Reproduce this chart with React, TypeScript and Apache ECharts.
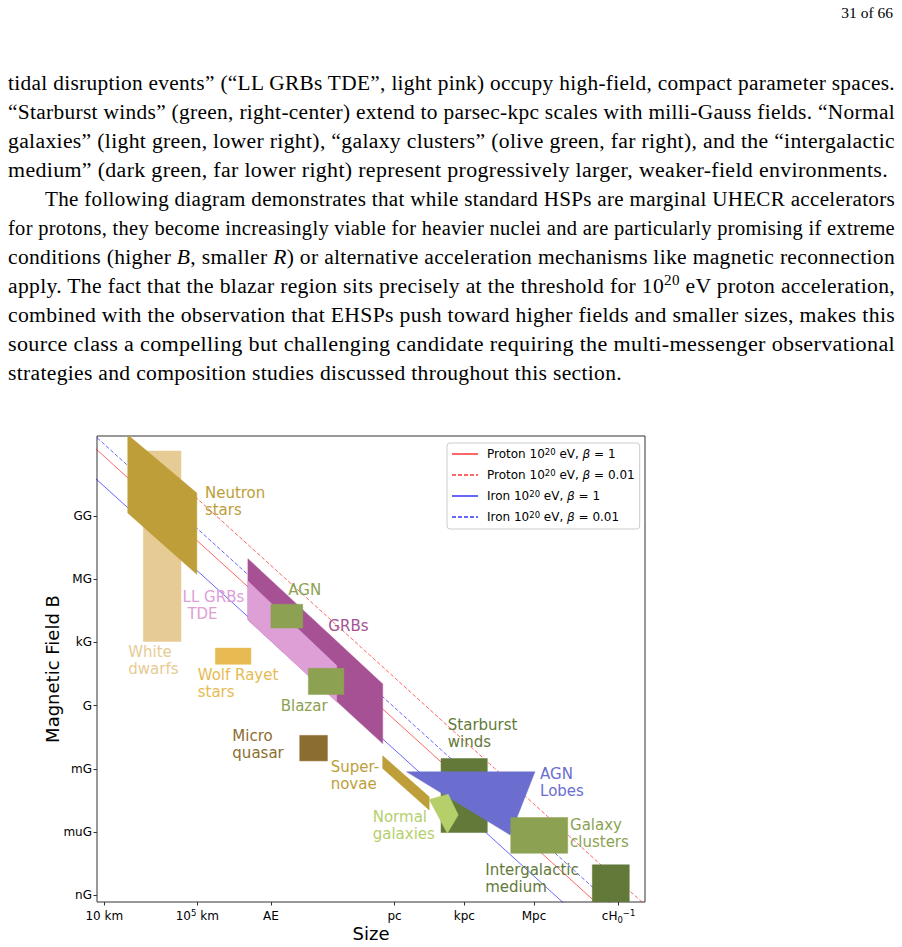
import React, { useEffect, useLayoutEffect, useRef } from "react";
import * as echarts from "echarts";

// ---------- axis ticks (log10 of size in m, log10 of field in G) ----------
const xTickValues = [4, 8, 11.17, 16.49, 19.49, 22.49, 26.13];
const xTickLabels = ["10 km", "10{sup|5} km", "AE", "pc", "kpc", "Mpc", "cH{sub|0}{sup|−1}"];
const yTickValues = [9, 6, 3, 0, -3, -6, -9];
const yTickLabels = ["GG", "MG", "kG", "G", "mG", "muG", "nG"];
const xRange = [3.686, 27.266];
const yRange = [-9.314, 12.793];

// ---------- Hillas lines (end points) ----------
const protonBeta1 = [[3.5, 12.32], [28, -12.18]];
const protonBeta001 = [[3.5, 14.32], [28, -10.18]];
const ironBeta1 = [[3.5, 10.9], [28, -13.6]];
const ironBeta001 = [[3.5, 12.9], [28, -11.6]];
const lineNames = ["Proton β=1", "Proton β=0.01", "Iron β=1", "Iron β=0.01"];
const lineLegendText = [
  "Proton 10{sup|20} eV, {it|β} = 1",
  "Proton 10{sup|20} eV, {it|β} = 0.01",
  "Iron 10{sup|20} eV, {it|β} = 1",
  "Iron 10{sup|20} eV, {it|β} = 0.01",
];

// ---------- source regions (log10 R [m], log10 B [G]) ----------
const whiteDwarfs = [[5.68, 3.05], [7.3, 3.05], [7.3, 12.08], [5.68, 12.08]];
const neutronStars = [[5.01, 12.85], [7.98, 10.09], [7.98, 6.23], [5.01, 9.14]];
const grbs = [[10.18, 6.97], [15.98, 1.03], [15.98, -1.8], [10.18, 4.07]];
const llGrbsTde = [[10.18, 5.91], [14.0, 1.9], [14.0, 0.17], [10.18, 4.07]];
const agn = [[11.17, 4.81], [12.54, 4.81], [12.54, 3.68], [11.17, 3.68]];
const blazar = [[12.78, 1.77], [14.31, 1.77], [14.31, 0.53], [12.78, 0.53]];
const wolfRayet = [[8.78, 2.73], [10.31, 2.73], [10.31, 1.96], [8.78, 1.96]];
const microQuasar = [[12.41, -1.41], [13.6, -1.41], [13.6, -2.62], [12.41, -2.62]];
const supernovae = [[15.98, -2.38], [17.98, -4.32], [17.98, -4.95], [15.98, -2.98]];
const starburstWinds = [[18.49, -2.51], [20.48, -2.51], [20.48, -6.02], [18.49, -6.02]];
const agnLobes = [[17.01, -3.14], [22.53, -3.14], [21.46, -6.13]];
const normalGalaxies = [[17.98, -4.45], [18.8, -4.2], [19.23, -5.19], [18.76, -6.05]];
const galaxyClusters = [[21.49, -5.31], [23.94, -5.31], [23.94, -7.0], [21.49, -7.0]];
const intergalacticMedium = [[25.0, -7.55], [26.59, -7.55], [26.59, -10.0], [25.0, -10.0]];

const regionColors = {
  wd: "#E7CB94",
  ns: "#BD9E39",
  grb: "#A55194",
  ll: "#DE9ED6",
  agn: "#8CA252",
  wr: "#E7BA52",
  mq: "#8C6D31",
  dark: "#637939",
  lobes: "#6B6ECF",
  normal: "#B5CF6B",
};

const regions = [
  { pts: whiteDwarfs, color: regionColors.wd },
  { pts: neutronStars, color: regionColors.ns },
  { pts: grbs, color: regionColors.grb },
  { pts: llGrbsTde, color: regionColors.ll },
  { pts: agn, color: regionColors.agn },
  { pts: blazar, color: regionColors.agn },
  { pts: wolfRayet, color: regionColors.wr },
  { pts: microQuasar, color: regionColors.mq },
  { pts: supernovae, color: regionColors.ns },
  { pts: starburstWinds, color: regionColors.dark },
  { pts: agnLobes, color: regionColors.lobes },
  { pts: normalGalaxies, color: regionColors.normal },
  { pts: galaxyClusters, color: regionColors.agn },
  { pts: intergalacticMedium, color: regionColors.dark },
];

// ---------- region labels (anchor = top-left of text block) ----------
const labelTexts = [
  "Neutron\nstars", "LL GRBs\n\u00a0TDE", "AGN", "GRBs", "White\ndwarfs", "Wolf Rayet\nstars",
  "Blazar", "Micro\nquasar", "Super-\nnovae", "Normal\ngalaxies", "Starburst\nwinds",
  "AGN\nLobes", "Galaxy\nclusters", "Intergalactic\nmedium",
];
const labelX = [8.33, 7.37, 11.92, 13.64, 5.03, 8.02, 11.59, 9.51, 13.74, 15.55, 18.78, 22.75, 24.04, 20.39];
const labelY = [10.51, 5.58, 5.9, 4.2, 2.95, 1.88, 0.38, -1.03, -2.53, -4.89, -0.53, -2.84, -5.28, -7.38];
const labelColors = [
  regionColors.ns, regionColors.ll, regionColors.agn, regionColors.grb, regionColors.wd, regionColors.wr,
  regionColors.agn, regionColors.mq, regionColors.ns, regionColors.normal, regionColors.dark,
  regionColors.lobes, regionColors.agn, regionColors.dark,
];

// ---------- page text ----------
type Part = string | { i: string } | { sup: string };
const pageLines: { parts: Part[]; x: number; w: number }[] = [
  { parts: ["tidal disruption events” (“LL GRBs TDE”, light pink) occupy high-field, compact parameter spaces."], x: 8, w: 887 },
  { parts: ["“Starburst winds” (green, right-center) extend to parsec-kpc scales with milli-Gauss fields. “Normal"], x: 8, w: 887 },
  { parts: ["galaxies” (light green, lower right), “galaxy clusters” (olive green, far right), and the “intergalactic"], x: 8, w: 887 },
  { parts: ["medium” (dark green, far lower right) represent progressively larger, weaker-field environments."], x: 8, w: 880 },
  { parts: ["The following diagram demonstrates that while standard HSPs are marginal UHECR accelerators"], x: 45, w: 850 },
  { parts: ["for protons, they become increasingly viable for heavier nuclei and are particularly promising if extreme"], x: 8, w: 887 },
  { parts: ["conditions (higher ", { i: "B" }, ", smaller ", { i: "R" }, ") or alternative acceleration mechanisms like magnetic reconnection"], x: 8, w: 887 },
  { parts: ["apply. The fact that the blazar region sits precisely at the threshold for 10", { sup: "20" }, " eV proton acceleration,"], x: 8, w: 887 },
  { parts: ["combined with the observation that EHSPs push toward higher fields and smaller sizes, makes this"], x: 8, w: 887 },
  { parts: ["source class a compelling but challenging candidate requiring the multi-messenger observational"], x: 8, w: 887 },
  { parts: ["strategies and composition studies discussed throughout this section."], x: 8, w: 614 },
];
const referenceLineIndex = 10;
const firstBaseline = 89.7;
const lineStep = 29;

export default function App() {
  const chartRef = useRef<HTMLDivElement>(null);
  const lineRefs = useRef<(HTMLSpanElement | null)[]>([]);

  useLayoutEffect(() => {
    const justify = () => {
      const widths: number[] = [];
      pageLines.forEach((_, i) => {
        const el = lineRefs.current[i];
        if (!el) return;
        el.style.wordSpacing = "0px";
        el.style.transform = "none";
        widths[i] = el.getBoundingClientRect().width;
      });
      const s0 = pageLines[referenceLineIndex].w / (widths[referenceLineIndex] || 1);
      pageLines.forEach((ln, i) => {
        const el = lineRefs.current[i];
        if (!el) return;
        const spaces = (el.textContent || "").split(" ").length - 1;
        let s = ln.w / widths[i];
        s = Math.min(Math.max(s, s0 * 0.94), s0 * 1.04);
        const ws = spaces > 0 ? (ln.w / s - widths[i]) / spaces : 0;
        el.style.wordSpacing = ws + "px";
        el.style.transform = `scaleX(${s})`;
      });
    };
    justify();
    const f: any = (document as any).fonts;
    if (f && f.ready) f.ready.then(justify);
  }, []);

  useEffect(() => {
    if (!chartRef.current) return;
    const chart = echarts.init(chartRef.current, null, { renderer: "svg" });
    const font = "DejaVu Sans";
    const lineDefs = [
      { data: protonBeta1, color: "rgba(255,0,0,0.6)", dashed: false },
      { data: protonBeta001, color: "rgba(255,0,0,0.6)", dashed: true },
      { data: ironBeta1, color: "rgba(0,0,255,0.6)", dashed: false },
      { data: ironBeta001, color: "rgba(0,0,255,0.6)", dashed: true },
    ];
    const findIdx = (vals: number[], v: number) => vals.findIndex((t) => Math.abs(t - v) < 1e-6);
    chart.setOption({
      animation: false,
      textStyle: { fontFamily: font },
      grid: { left: 97, top: 36, width: 548, height: 468, show: true, borderColor: "#333", borderWidth: 1, backgroundColor: "transparent" },
      legend: {
        orient: "vertical",
        left: 447,
        top: 43,
        padding: [4, 5, 5, 4],
        itemWidth: 26,
        itemHeight: 14,
        itemGap: 7,
        backgroundColor: "rgba(255,255,255,0.8)",
        borderColor: "#ccc",
        borderWidth: 1,
        borderRadius: 3,
        selectedMode: false,
        data: lineNames,
        itemStyle: { opacity: 0 },
        formatter: (name: string) => lineLegendText[lineNames.indexOf(name)],
        textStyle: {
          fontFamily: font,
          fontSize: 12,
          color: "#000",
          lineHeight: 14,
          padding: [0, 0, 0, 4],
          rich: {
            sup: { fontSize: 8.5, lineHeight: 8, verticalAlign: "top", color: "#000", fontFamily: font },
            it: { fontStyle: "italic", fontSize: 12, lineHeight: 14, color: "#000", fontFamily: font },
          },
        },
      },
      xAxis: {
        type: "value",
        min: xRange[0],
        max: xRange[1],
        name: "Size",
        nameLocation: "middle",
        nameGap: 22,
        nameMoveOverlap: false,
        nameTextStyle: { fontSize: 18, color: "#000", fontFamily: font },
        splitLine: { show: false },
        axisLine: { show: false, onZero: false },
        axisTick: { show: true, length: 3.5, customValues: xTickValues, lineStyle: { color: "#333" } },
        axisLabel: {
          customValues: xTickValues,
          margin: 6,
          fontSize: 12,
          lineHeight: 16,
          color: "#000",
          fontFamily: font,
          formatter: (v: number) => {
            const i = findIdx(xTickValues, v);
            return i >= 0 ? xTickLabels[i] : "";
          },
          rich: {
            sup: { fontSize: 8.5, lineHeight: 9, verticalAlign: "top", color: "#000", fontFamily: font },
            sub: { fontSize: 8.5, lineHeight: 9, verticalAlign: "bottom", color: "#000", fontFamily: font },
          },
        },
      },
      yAxis: {
        type: "value",
        min: yRange[0],
        max: yRange[1],
        name: "Magnetic Field B",
        nameLocation: "middle",
        nameGap: 35,
        nameMoveOverlap: false,
        nameTextStyle: { fontSize: 18, lineHeight: 20, color: "#000", fontFamily: font },
        splitLine: { show: false },
        axisLine: { show: false, onZero: false },
        axisTick: { show: true, length: 3.5, customValues: yTickValues, lineStyle: { color: "#333" } },
        axisLabel: {
          customValues: yTickValues,
          margin: 5,
          fontSize: 12,
          color: "#000",
          fontFamily: font,
          formatter: (v: number) => {
            const i = findIdx(yTickValues, v);
            return i >= 0 ? yTickLabels[i] : "";
          },
        },
      },
      series: [
        ...lineDefs.map((d, i) => ({
          name: lineNames[i],
          type: "line",
          data: d.data,
          symbol: "none",
          z: 1,
          silent: true,
          clip: true,
          color: d.color,
          lineStyle: { color: d.color, width: 1, type: d.dashed ? [4, 2] : "solid" },
        })),
        {
          type: "custom",
          z: 2,
          silent: true,
          clip: true,
          data: regions.map((r) => r.pts[0]),
          renderItem: (params: any, api: any) => {
            const r = regions[params.dataIndex];
            return {
              type: "polygon",
              shape: { points: r.pts.map((p) => api.coord(p)) },
              style: { fill: r.color, stroke: r.color, lineWidth: 0.5 },
            };
          },
        },
        {
          type: "custom",
          z: 3,
          silent: true,
          clip: false,
          data: labelX.map((x, i) => [x, labelY[i]]),
          renderItem: (params: any, api: any) => {
            const i = params.dataIndex;
            const p = api.coord([labelX[i], labelY[i]]);
            return {
              type: "text",
              x: p[0],
              y: p[1],
              style: {
                text: labelTexts[i],
                fill: labelColors[i],
                fontSize: 15,
                fontFamily: font,
                lineHeight: 17,
                align: "left",
                verticalAlign: "top",
              },
            };
          },
        },
      ],
    });
    return () => chart.dispose();
  }, []);

  const renderPart = (p: Part, k: number) => {
    if (typeof p === "string") return <React.Fragment key={k}>{p}</React.Fragment>;
    if ("i" in p) return <i key={k}>{p.i}</i>;
    return (
      <span key={k} style={{ fontSize: "0.7em", position: "relative", top: "-0.55em" }}>
        {p.sup}
      </span>
    );
  };

  return (
    <div style={{ position: "fixed", left: 0, top: 0, width: 902, height: 947, overflow: "hidden", background: "#fff" }}>
      <div
        style={{
          position: "absolute",
          right: 9,
          top: 5.3,
          fontFamily: "'Liberation Serif', serif",
          fontSize: 15.5,
          lineHeight: "15.5px",
          color: "#000",
          whiteSpace: "nowrap",
        }}
      >
        31 of 66
      </div>
      {pageLines.map((ln, i) => (
        <span
          key={i}
          ref={(el) => {
            lineRefs.current[i] = el;
          }}
          style={{
            position: "absolute",
            left: ln.x,
            top: firstBaseline + i * lineStep - 16.75,
            fontFamily: "'Liberation Serif', serif",
            fontSize: 20,
            lineHeight: "20px",
            letterSpacing: "0.3px",
            whiteSpace: "nowrap",
            color: "#000",
            transformOrigin: "0 0",
            display: "inline-block",
          }}
        >
          {ln.parts.map(renderPart)}
        </span>
      ))}
      <div ref={chartRef} style={{ position: "absolute", left: 0, top: 400, width: 902, height: 547 }} />
    </div>
  );
}
